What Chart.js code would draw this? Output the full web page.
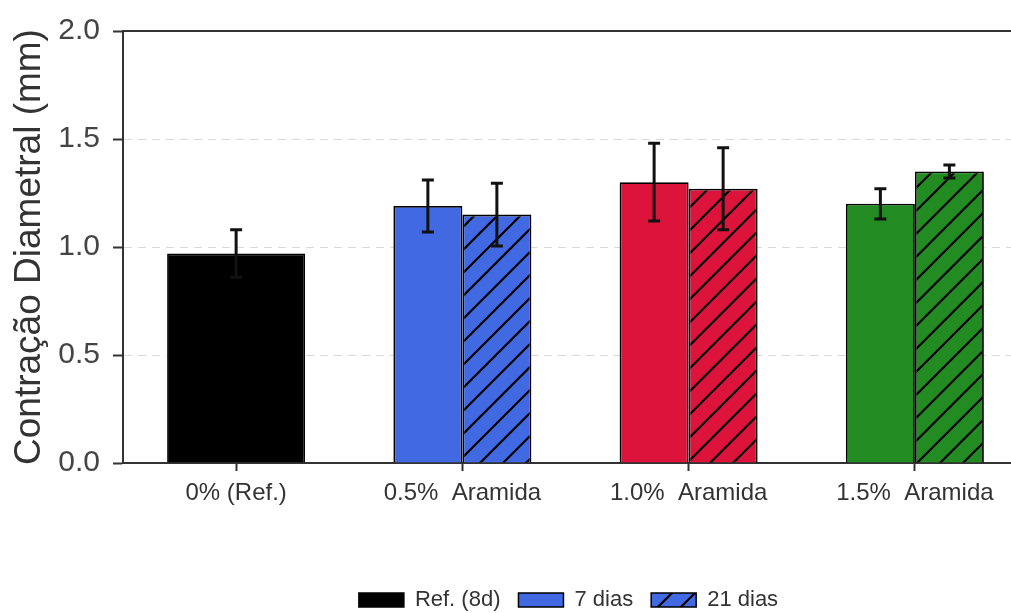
<!DOCTYPE html>
<html>
<head>
<meta charset="utf-8">
<script src="https://cdn.jsdelivr.net/npm/chart.js@4.4.1/dist/chart.umd.min.js"></script>
<style>
  html, body { margin: 0; padding: 0; background: #fff; overflow: hidden; }
  #plot { display: block; }
</style>
</head>
<body>
<canvas id="plot" width="1030" height="640"></canvas>
<script>
const categories = ['0% (Ref.)', '0.5%  Aramida', '1.0%  Aramida', '1.5%  Aramida'];
const refValues = [0.97, null, null, null];
const refErrors = [0.11, null, null, null];
const days7Values = [null, 1.19, 1.30, 1.20];
const days7Errors = [null, 0.12, 0.18, 0.07];
const days21Values = [null, 1.15, 1.27, 1.35];
const days21Errors = [null, 0.145, 0.19, 0.03];
const groupColors = ['#000000', '#4169e1', '#dc143c', '#228b22'];
const legendLabels = ['Ref. (8d)', '7 dias', '21 dias'];

const axisColor = '#333';
const fontFamily = 'Liberation Sans, Arial, sans-serif';

// diagonal "//" hatch on a solid fill
function hatch(color) {
  const s = 23;
  const c = document.createElement('canvas');
  c.width = s; c.height = s;
  const g = c.getContext('2d');
  g.fillStyle = color;
  g.fillRect(0, 0, s, s);
  g.strokeStyle = '#000';
  g.lineWidth = 2.2;
  g.beginPath();
  g.moveTo(0, s); g.lineTo(s, 0);
  g.moveTo(-s / 2, s / 2); g.lineTo(s / 2, -s / 2);
  g.moveTo(s / 2, s + s / 2); g.lineTo(s + s / 2, s / 2);
  g.stroke();
  return g.createPattern(c, 'repeat');
}

const errorBars = {
  id: 'errorBars',
  afterDatasetsDraw(chart) {
    const ctx = chart.ctx;
    const y = chart.scales.y;
    chart.data.datasets.forEach((ds, i) => {
      const meta = chart.getDatasetMeta(i);
      meta.data.forEach((bar, j) => {
        const v = ds.data[j], e = ds.errors[j];
        if (v == null || e == null) return;
        const top = y.getPixelForValue(v + e);
        const bot = y.getPixelForValue(v - e);
        ctx.save();
        ctx.strokeStyle = '#111';
        ctx.lineWidth = 3;
        ctx.beginPath();
        ctx.moveTo(bar.x, top); ctx.lineTo(bar.x, bot);
        ctx.moveTo(bar.x - 6, top); ctx.lineTo(bar.x + 6, top);
        ctx.moveTo(bar.x - 6, bot); ctx.lineTo(bar.x + 6, bot);
        ctx.stroke();
        ctx.restore();
      });
    });
  }
};

// nudge the legend a little left, as in the original figure
const legendShift = {
  id: 'legendShift',
  afterLayout(chart) {
    chart.legend.left -= 7;
    chart.legend.right -= 7;
  }
};

const data = {
  labels: categories,
  datasets: [
    {
      label: legendLabels[0],
      data: refValues,
      errors: refErrors,
      backgroundColor: groupColors[0],
    },
    {
      label: legendLabels[1],
      data: days7Values,
      errors: days7Errors,
      backgroundColor: groupColors,
    },
    {
      label: legendLabels[2],
      data: days21Values,
      errors: days21Errors,
      backgroundColor: groupColors.map(hatch),
    }
  ]
};

const legendFills = [groupColors[0], groupColors[1], hatch(groupColors[1])];

const config = {
  type: 'bar',
  data: data,
  options: {
    responsive: false,
    animation: false,
    layout: { padding: { top: 23, right: 2, bottom: 19, left: 0 } },
    datasets: {
      bar: {
        borderColor: '#000',
        borderWidth: 1.8,
        skipNull: true,
        categoryPercentage: 0.61,
        barPercentage: 1.0
      }
    },
    plugins: {
      legend: {
        position: 'bottom',
        fullSize: false,
        labels: {
          color: '#333',
          font: { family: fontFamily, size: 22 },
          boxWidth: 45,
          boxHeight: 14,
          padding: 18,
          generateLabels(chart) {
            const items = Chart.defaults.plugins.legend.labels.generateLabels(chart);
            items.forEach((it, i) => {
              it.fillStyle = legendFills[i];
              it.strokeStyle = '#000';
              it.lineWidth = 1.5;
            });
            return items;
          }
        }
      },
      tooltip: { enabled: false }
    },
    scales: {
      x: {
        type: 'category',
        offset: true,
        afterFit: s => { s.height = 108; },
        grid: {
          offset: false,
          drawOnChartArea: false,
          tickLength: 8,
          tickColor: axisColor,
          tickWidth: 2
        },
        border: { color: axisColor, width: 2 },
        ticks: {
          color: '#333',
          padding: 8,
          maxRotation: 0,
          font: { family: fontFamily, size: 24 }
        }
      },
      xTop: {
        type: 'category',
        position: 'top',
        labels: categories,
        afterFit: s => { s.height = 0; },
        grid: { display: false, drawTicks: false },
        ticks: { display: false },
        border: { color: axisColor, width: 2 }
      },
      y: {
        min: 0,
        max: 2,
        afterFit: s => { s.width = 123; },
        title: {
          display: true,
          text: 'Contração Diametral (mm)',
          color: '#333',
          padding: { top: 8, bottom: 0 },
          font: { family: fontFamily, size: 37 }
        },
        ticks: {
          stepSize: 0.5,
          padding: 13,
          color: '#444',
          font: { family: fontFamily, size: 30 },
          callback: v => v.toFixed(1)
        },
        grid: {
          color: c => (c.tick && (c.tick.value === 0 || c.tick.value === 2)) ? 'rgba(0,0,0,0)' : '#d9d9d9',
          lineWidth: 1,
          tickLength: 10,
          tickColor: axisColor,
          tickWidth: 2
        },
        border: { color: axisColor, width: 2, dash: [8, 6] }
      }
    }
  },
  plugins: [errorBars, legendShift]
};

const canvas = document.getElementById('plot');
const myChart = new Chart(canvas, config);
</script>
</body>
</html>
